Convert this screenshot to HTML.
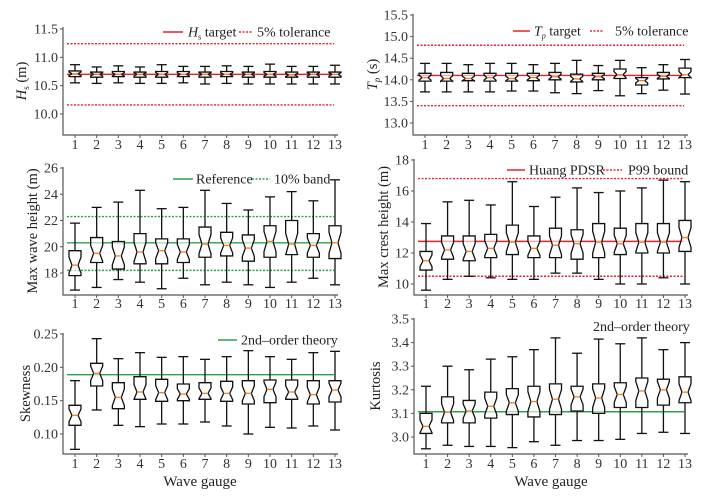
<!DOCTYPE html>
<html><head><meta charset="utf-8">
<style>
html,body{margin:0;padding:0;background:#fff;}
svg, svg text{font-family:"Liberation Serif","Times New Roman",serif;}
</style></head>
<body>
<svg id="chart" width="705" height="497" viewBox="0 0 705 497" xmlns="http://www.w3.org/2000/svg" font-family="Liberation Serif, serif"></svg>
<script>
const gauges = [1,2,3,4,5,6,7,8,9,10,11,12,13];

const hsQ1  = [10.66,10.65,10.66,10.65,10.65,10.66,10.65,10.66,10.65,10.65,10.65,10.65,10.65];
const hsQ3  = [10.76,10.74,10.75,10.74,10.75,10.75,10.74,10.75,10.74,10.75,10.74,10.74,10.74];
const hsMed = [10.71,10.70,10.70,10.70,10.70,10.70,10.70,10.70,10.70,10.70,10.69,10.70,10.70];
const hsLo  = [10.55,10.54,10.55,10.54,10.54,10.55,10.53,10.54,10.53,10.53,10.53,10.53,10.53];
const hsHi  = [10.87,10.83,10.85,10.83,10.87,10.84,10.84,10.85,10.84,10.88,10.84,10.84,10.86];

const tpQ1  = [13.97,13.97,13.98,13.97,13.97,13.98,14.00,13.95,14.00,14.03,13.88,14.02,14.05];
const tpQ3  = [14.15,14.17,14.15,14.15,14.15,14.15,14.17,14.13,14.15,14.25,14.05,14.17,14.27];
const tpMed = [14.05,14.03,14.03,14.05,14.03,14.05,14.07,14.02,14.07,14.12,13.98,14.08,14.12];
const tpLo  = [13.72,13.72,13.72,13.72,13.74,13.74,13.70,13.68,13.75,13.63,13.68,13.76,13.67];
const tpHi  = [14.38,14.38,14.35,14.38,14.38,14.35,14.38,14.45,14.33,14.45,14.28,14.35,14.47];

const mwQ1  = [17.8,18.8,18.3,18.7,18.7,18.8,19.2,19.3,18.9,19.2,19.4,19.2,19.1];
const mwQ3  = [19.7,20.7,20.4,21.0,20.6,20.6,21.5,21.1,20.9,21.6,22.0,21.0,21.6];
const mwMed = [18.6,19.5,19.3,19.6,19.7,19.6,20.2,20.1,19.9,20.4,20.2,20.1,20.3];
const mwLo  = [16.7,16.9,17.5,17.3,16.8,17.6,17.1,17.3,17.1,16.9,17.3,17.6,17.1];
const mwHi  = [21.8,23.0,23.4,24.3,22.9,23.0,24.3,23.3,22.8,23.8,24.2,23.5,25.1];

const mcQ1  = [10.9,11.6,11.5,11.7,11.9,11.7,11.7,11.6,11.7,11.9,12.0,12.0,12.1];
const mcQ3  = [12.1,13.1,13.1,13.2,13.8,13.1,13.6,13.5,13.9,13.6,13.9,13.9,14.1];
const mcMed = [11.5,12.2,12.1,12.3,12.7,12.3,12.5,12.6,12.7,12.6,12.7,12.7,13.0];
const mcLo  = [9.6,10.3,10.5,10.4,10.3,10.3,10.7,10.7,10.3,10.0,10.0,10.4,10.0];
const mcHi  = [13.9,15.3,15.4,15.1,16.6,15.0,15.6,16.2,15.9,16.0,16.2,16.7,16.6];

const skQ1  = [0.113,0.172,0.138,0.152,0.149,0.150,0.152,0.149,0.145,0.147,0.152,0.145,0.148];
const skQ3  = [0.143,0.206,0.177,0.186,0.182,0.175,0.177,0.179,0.180,0.181,0.181,0.180,0.180];
const skMed = [0.128,0.191,0.155,0.163,0.162,0.160,0.161,0.161,0.161,0.167,0.163,0.159,0.166];
const skLo  = [0.077,0.136,0.113,0.111,0.115,0.115,0.118,0.112,0.100,0.110,0.109,0.112,0.106];
const skHi  = [0.180,0.243,0.213,0.222,0.215,0.216,0.212,0.216,0.225,0.216,0.212,0.222,0.224];

const kuQ1  = [3.015,3.060,3.060,3.080,3.095,3.085,3.095,3.110,3.100,3.125,3.125,3.135,3.145];
const kuQ3  = [3.100,3.170,3.155,3.190,3.205,3.215,3.225,3.215,3.225,3.230,3.250,3.245,3.255];
const kuMed = [3.045,3.105,3.110,3.130,3.145,3.150,3.160,3.170,3.165,3.180,3.195,3.200,3.190];
const kuLo  = [2.950,2.965,2.960,2.960,2.955,2.980,2.965,2.985,2.985,2.990,3.015,3.020,3.015];
const kuHi  = [3.215,3.300,3.285,3.330,3.340,3.370,3.420,3.355,3.415,3.395,3.420,3.370,3.400];

const hsTicks = [10.0,10.5,11.0,11.5];
const tpTicks = [13.0,13.5,14.0,14.5,15.0,15.5];
const mwTicks = [18,20,22,24,26];
const mcTicks = [10,12,14,16,18];
const skTicks = [0.10,0.15,0.20,0.25];
const kuTicks = [3.0,3.1,3.2,3.3,3.4,3.5];

const hsRefs = [10.70, 10.16, 11.24];
const tpRefs = [14.10, 13.40, 14.80];
const mwRefs = [20.3, 18.2, 22.3];
const mcRefs = [12.75, 10.5, 16.8];
const skRefs = [0.189];
const kuRefs = [3.107];

const NS = "http://www.w3.org/2000/svg";
const FONT = '"Liberation Serif", serif';
const svg = document.getElementById('chart');
function mk(tag, attrs, parent){
  const e = document.createElementNS(NS, tag);
  for (const k in attrs) e.setAttribute(k, attrs[k]);
  if (tag === 'text') e.style.fontFamily = FONT;
  (parent||svg).appendChild(e);
  return e;
}

const panels = [
 {name:'hs', x0:63, x1:338, yTop:27, yBot:135, pTop:29, vTop:11.5, pRef:114, vRef:10.0,
  q1:hsQ1,q3:hsQ3,med:hsMed,lo:hsLo,hi:hsHi,ticks:hsTicks,dec:1,refs:hsRefs,color:'#e8202a',title:'hs',tx:26,labY:149},
 {name:'tp', x0:413, x1:688, yTop:14, yBot:135, pTop:15, vTop:15.5, pRef:123, vRef:13.0,
  q1:tpQ1,q3:tpQ3,med:tpMed,lo:tpLo,hi:tpHi,ticks:tpTicks,dec:1,refs:tpRefs,color:'#e8202a',title:'tp',tx:377,labY:149},
 {name:'max-wave', x0:63, x1:338, yTop:167, yBot:295, pTop:168, vTop:26, pRef:273, vRef:18,
  q1:mwQ1,q3:mwQ3,med:mwMed,lo:mwLo,hi:mwHi,ticks:mwTicks,dec:0,refs:mwRefs,color:'#2ca048',title:'Max wave height (m)',tx:37,labY:308},
 {name:'max-crest', x0:414, x1:688, yTop:159, yBot:295, pTop:160, vTop:18, pRef:284, vRef:10,
  q1:mcQ1,q3:mcQ3,med:mcMed,lo:mcLo,hi:mcHi,ticks:mcTicks,dec:0,refs:mcRefs,color:'#e8202a',title:'Max crest height (m)',tx:388,labY:308},
 {name:'skewness', x0:63, x1:338, yTop:333, yBot:454, pTop:334, vTop:0.25, pRef:434, vRef:0.10,
  q1:skQ1,q3:skQ3,med:skMed,lo:skLo,hi:skHi,ticks:skTicks,dec:2,refs:skRefs,color:'#2ca048',title:'Skewness',tx:30,labY:468},
 {name:'kurtosis', x0:414, x1:688, yTop:318, yBot:454, pTop:319, vTop:3.5, pRef:437, vRef:3.0,
  q1:kuQ1,q3:kuQ3,med:kuMed,lo:kuLo,hi:kuHi,ticks:kuTicks,dec:1,refs:kuRefs,color:'#2ca048',title:'Kurtosis',tx:380,labY:468}
];

panels.forEach(p => {
  const g = mk('g', {});
  
  
  const ys = v => p.pRef + (p.vRef - v) * (p.pRef - p.pTop) / (p.vTop - p.vRef);
  const xFirst = p.x0 + 12, xLast = p.x1 - 3;
  const xs = i => xFirst + (i - 1) * (xLast - xFirst) / 12;

  p.refs.forEach((r, k) => {
    const l = mk('line', {x1:p.x0+4, x2:p.x1-4, y1:ys(r), y2:ys(r), stroke:p.color, 'stroke-width':1.4}, g);
    if (k > 0) l.setAttribute('stroke-dasharray', '2,1.5');
    
    
  });

  gauges.forEach((gg, i) => {
    const x = xs(gg);
    const w = 6, q1 = p.q1[i], q3 = p.q3[i], m = p.med[i];
    const iqr = q3 - q1;
    const nlo = m - 0.32 * iqr, nhi = m + 0.32 * iqr;
    const bg = mk('g', {}, g);
    
    
    mk('line', {x1:x, x2:x, y1:ys(p.hi[i]), y2:ys(q3), stroke:'#111', 'stroke-width':1.3}, bg);
    mk('line', {x1:x, x2:x, y1:ys(q1), y2:ys(p.lo[i]), stroke:'#111', 'stroke-width':1.3}, bg);
    mk('line', {x1:x-5, x2:x+5, y1:ys(p.hi[i]), y2:ys(p.hi[i]), stroke:'#111', 'stroke-width':1.3}, bg);
    mk('line', {x1:x-5, x2:x+5, y1:ys(p.lo[i]), y2:ys(p.lo[i]), stroke:'#111', 'stroke-width':1.3}, bg);
    const d = `M${x-w},${ys(q1)} L${x-w},${ys(nlo)} L${x-w*0.5},${ys(m)} L${x-w},${ys(nhi)} L${x-w},${ys(q3)} L${x+w},${ys(q3)} L${x+w},${ys(nhi)} L${x+w*0.5},${ys(m)} L${x+w},${ys(nlo)} L${x+w},${ys(q1)} Z`;
    mk('path', {d:d, fill:'#fff', 'fill-opacity':0.6, stroke:'#111', 'stroke-width':1.3}, bg);
    mk('line', {x1:x-w*0.5, x2:x+w*0.5, y1:ys(m), y2:ys(m), stroke:'#f07f20', 'stroke-width':1.3}, bg);
  });

  const ax = mk('path', {d:`M${p.x0},${p.yTop} L${p.x0},${p.yBot} L${p.x1},${p.yBot}`, fill:'none', stroke:'#555', 'stroke-width':1.2}, g);
  
  
  p.ticks.forEach(t => {
    const y = ys(t);
    mk('line', {x1:p.x0-3, x2:p.x0, y1:y, y2:y, stroke:'#555', 'stroke-width':1}, g);
    const tl = mk('text', {x:p.x0-5, y:y+4.5, 'text-anchor':'end', 'font-size':14, fill:'#333'}, g);
    tl.textContent = t.toFixed(p.dec);
    
    
  });
  gauges.forEach(gg => {
    const x = xs(gg);
    mk('line', {x1:x, x2:x, y1:p.yBot, y2:p.yBot+3, stroke:'#555', 'stroke-width':1}, g);
    const tl = mk('text', {x:x, y:p.labY, 'text-anchor':'middle', 'font-size':14, fill:'#333'}, g);
    tl.textContent = gg;
    
    
  });

  const cy = (p.yTop + p.yBot) / 2;
  const tt = mk('text', {x:p.tx, y:cy, 'text-anchor':'middle', 'font-size':14.5, fill:'#222', transform:`rotate(-90 ${p.tx} ${cy})`}, g);
  
  
  if (p.title === 'hs') {
    tt.innerHTML = '<tspan font-style="italic">H</tspan><tspan font-size="9" dy="3">s</tspan><tspan dy="-3"> (m)</tspan>';
  } else if (p.title === 'tp') {
    tt.innerHTML = '<tspan font-style="italic">T</tspan><tspan font-size="9" font-style="italic" dy="3">p</tspan><tspan dy="-3"> (s)</tspan>';
  } else tt.textContent = p.title;
});

function legend(items){
  items.forEach(it => {
    const l = mk('line', {x1:it.lx, x2:it.lx2, y1:it.y, y2:it.y, stroke:it.c, 'stroke-width':1.4});
    if (it.dash) l.setAttribute('stroke-dasharray', '2,1.5');
    
    
    const t = mk('text', {x:it.tx, y:it.y+4.5, 'font-size':14, fill:'#222'});
    t.innerHTML = it.text;
    
    
  });
}
legend([
 {lx:163,lx2:183,y:32,c:'#e8202a',tx:188,text:'<tspan font-style="italic">H</tspan><tspan font-size="8" dy="3">s</tspan><tspan dy="-3"> target</tspan>'},
 {lx:239,lx2:252,y:32,c:'#e8202a',dash:1,tx:257,text:'5% tolerance'},
 {lx:513,lx2:530,y:31,c:'#e8202a',tx:534,text:'<tspan font-style="italic">T</tspan><tspan font-size="8" font-style="italic" dy="3">p</tspan><tspan dy="-3"> target</tspan>'},
 {lx:590,lx2:604,y:31,c:'#e8202a',dash:1,tx:615,text:'5% tolerance'},
 {lx:173,lx2:193,y:179,c:'#2ca048',tx:196,text:'Reference'},
 {lx:252,lx2:270,y:179,c:'#2ca048',dash:1,tx:274,text:'10% band'},
 {lx:507,lx2:525,y:170,c:'#e8202a',tx:529,text:'Huang PDSR'},
 {lx:603,lx2:622,y:170,c:'#e8202a',dash:1,tx:628,text:'P99 bound'},
 {lx:218,lx2:237,y:340,c:'#2ca048',tx:241,text:'2nd–order theory'}
]);
const kt = mk('text', {x:593, y:331, 'font-size':14, fill:'#222'});
kt.textContent = '2nd–order theory';



[[200,'x-axis-title-left'],[551,'x-axis-title-right']].forEach(a => {
  const t = mk('text', {x:a[0], y:486, 'text-anchor':'middle', 'font-size':15, fill:'#222'});
  t.textContent = 'Wave gauge';
  
  
});
</script>
</body></html>
